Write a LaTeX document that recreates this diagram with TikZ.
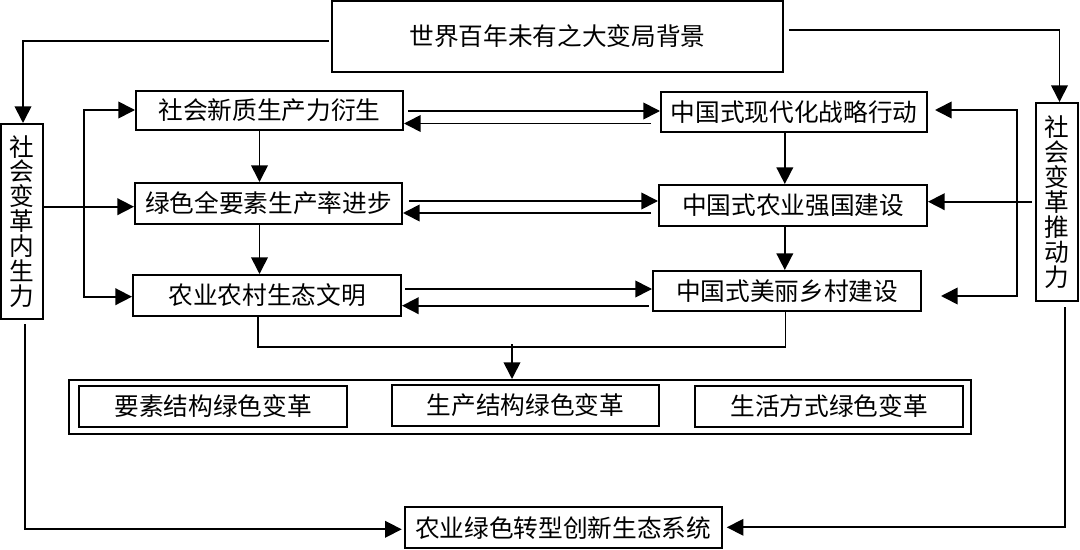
\documentclass[tikz,border=0pt]{standalone}
\usepackage{fontspec}
\setmainfont{Noto Sans CJK SC}
\usetikzlibrary{arrows.meta,calc}
\begin{document}
\begin{tikzpicture}[x=0.75pt,y=-0.75pt,
  sz/.style 2 args={minimum width=#1*0.75pt, minimum height=#2*0.75pt},
  box/.style={draw, line width=1.5pt, inner sep=0pt, font=\fontsize{18.5}{18.5}\selectfont},
  vbox/.style={draw, line width=1.5pt, inner sep=0pt, align=center, font=\fontsize{18.5}{18.7}\selectfont},
  conn/.style={line width=1.25pt},
  arr/.style={conn, -{Triangle[length=12.5pt,width=12.5pt]}},
  arrb/.style={conn, {Triangle[length=12.5pt,width=12.5pt]}-{Triangle[length=12.5pt,width=12.5pt]}},
]
\fill[white] (0,0) rectangle (1080,549);
\useasboundingbox (0,0) rectangle (1080,549);

% nodes
\node[box, sz={451}{71}] (T) at (557.5,36.5) {世界百年未有之大变局背景};
\node[vbox, sz={42}{195}] (L) at (22,221.5) {社\\会\\变\\革\\内\\生\\力};
\node[vbox, sz={42}{198}] (R) at (1057,202) {社\\会\\变\\革\\推\\动\\力};
\node[box, sz={267}{39}] (A1) at (269.5,110.5) {社会新质生产力衍生};
\node[box, sz={266}{40}] (B1) at (794,112) {中国式现代化战略行动};
\node[box, sz={267}{41}] (A2) at (268.5,203.5) {绿色全要素生产率进步};
\node[box, sz={268}{41}] (B2) at (793,205.5) {中国式农业强国建设};
\node[box, sz={268}{41}] (A3) at (267,295.5) {农业农村生态文明};
\node[box, sz={268}{40}] (B3) at (787,291) {中国式美丽乡村建设};
\node[box, sz={902}{53.5}] (C) at (520,406.75) {};
\node[box, sz={268}{41}] (G1) at (213,406.2) {要素结构绿色变革};
\node[box, sz={267}{40.7}] (G2) at (525.5,405.4) {生产结构绿色变革};
\node[box, sz={268.5}{41}] (G3) at (829,406.2) {生活方式绿色变革};
\node[box, sz={317}{40.7}] (S) at (563,527.6) {农业绿色转型创新生态系统};

% top connectors
\draw[arr] ($(T.west)+(-2,4.2)$) -| ($(L.north)+(1,0)$);
\draw[arr] ($(T.east)+(5,-6.5)$) -| ($(R.north)+(2.5,0)$);

% vertical arrows in columns
\draw[arr] ($(A1.south)+(-10,0)$) coordinate (p) -- (p |- A2.north);
\draw[arr] ($(A2.south)+(-9,0)$) coordinate (p) -- (p |- A3.north);
\draw[arr] ($(B1.south)+(-9.2,0)$) coordinate (p) -- (p |- B2.north);
\draw[arr] ($(B2.south)+(-8.2,0)$) coordinate (p) -- (p |- B3.north);

% row double arrows
\draw[arr] ($(A1.east)+(4,0.5)$) coordinate (p) -- (p -| B1.west);
\draw[arr] ($(B1.west)+(-9,11.5)$) coordinate (p) -- (p -| A1.east);
\draw[arr] ($(A2.east)+(6,-2.5)$) coordinate (p) -- (p -| B2.west);
\draw[arr] ($(B2.west)+(-7,7.5)$) coordinate (p) -- (p -| A2.east);
\draw[arr] ($(A3.east)+(3,-6.5)$) coordinate (p) -- (p -| B3.west);
\draw[arr] ($(B3.west)+(-3.5,14.7)$) coordinate (p) -- (p -| A3.east);

% left side
\draw[arr] ($(A2.west)+(0,3.2)$) coordinate (p) (L.east |- p) -- (p);
\draw[arrb] ($(A1.west)+(0,-0.5)$) -- ++(-51,0) |- ($(A3.west)+(0,1.2)$);

% right side
\draw[arr] ($(R.west)+(-3,-0.3)$) coordinate (p) -- (p -| B2.east);
\draw[arrb] ($(B1.east)+(7,-2)$) -- ++(82,0) |- ($(B3.east)+(19,5)$);

% merge to container
\draw[conn] ($(A3.south)+(-9,0)$) -- ++(0,29.7) -| ($(B3.south)+(-1.5,0)$);
\draw[arr] ($(C.north)+(-8,-35)$) coordinate (p) -- (p |- C.north);

% bottom connectors
\draw[arr] ($(L.south)+(2.8,4.3)$) |- ($(S.west)+(-1.8,1.7)$);
\draw[arr] ($(R.south)+(8,5)$) |- ($(S.east)+(4.3,-0.3)$);
\end{tikzpicture}
\end{document}
